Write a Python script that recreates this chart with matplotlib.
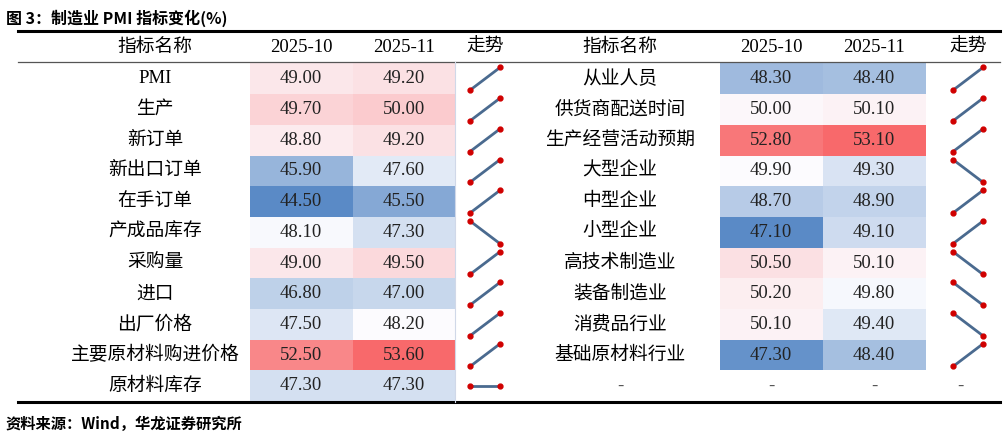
import matplotlib
matplotlib.use("Agg")
import matplotlib.pyplot as plt
from matplotlib.colors import LinearSegmentedColormap, TwoSlopeNorm
import numpy as np

plt.rcParams['font.family'] = ['Liberation Serif', 'Noto Sans CJK SC', 'DejaVu Sans']

left_names = ["PMI", "生产", "新订单", "新出口订单", "在手订单", "产成品库存", "采购量", "进口",
              "出厂价格", "主要原材料购进价格", "原材料库存"]
left_oct = [49.00, 49.70, 48.80, 45.90, 44.50, 48.10, 49.00, 46.80, 47.50, 52.50, 47.30]
left_nov = [49.20, 50.00, 49.20, 47.60, 45.50, 47.30, 49.50, 47.00, 48.20, 53.60, 47.30]
right_names = ["从业人员", "供货商配送时间", "生产经营活动预期", "大型企业", "中型企业", "小型企业",
               "高技术制造业", "装备制造业", "消费品行业", "基础原材料行业"]
right_oct = [48.30, 50.00, 52.80, 49.90, 48.70, 47.10, 50.50, 50.20, 50.10, 47.30]
right_nov = [48.40, 50.10, 53.10, 49.30, 48.90, 49.10, 50.10, 49.80, 49.40, 48.40]
headers = ["指标名称", "2025-10", "2025-11", "走势"]

W, H = 1007, 440
fig = plt.figure(figsize=(W/100, H/100), dpi=100)
ax = fig.add_axes([0, 0, 1, 1])
ax.set_xlim(0, W); ax.set_ylim(H, 0); ax.axis('off')

cmap = LinearSegmentedColormap.from_list("c", ["#5A8AC6", "#FCFCFF", "#F8696B"])
normL = TwoSlopeNorm(vmin=44.5, vcenter=48.2, vmax=53.6)
normR = TwoSlopeNorm(vmin=47.1, vcenter=49.9, vmax=53.1)

fs = 13.5
ax.text(6, 18, "图 3：制造业 PMI 指标变化(%)", fontsize=11.5, fontweight='bold', va='center',
        family=['Noto Sans CJK SC'])
ax.plot([18, 1000], [31, 31], color='black', lw=2.2)
ax.plot([18, 1000], [62, 62], color='#555555', lw=0.9)
ax.plot([18, 1000], [402, 402], color='black', lw=2.2)

top, rh = 63.5, 30.7
def table(names, oct_, nov, norm, xname, xc1, xc2, xtr, cw):
    for t, x in zip(headers, [xname, xc1, xc2, xtr]):
        ax.text(x, 47, t, fontsize=fs, ha='center', va='center')
    for i, (n, a, b) in enumerate(zip(names, oct_, nov)):
        y0 = top + i*rh; yc = y0 + rh/2
        ax.text(xname, yc, n, fontsize=fs, ha='center', va='center')
        for x, v in [(xc1, a), (xc2, b)]:
            ax.add_patch(plt.Rectangle((x-cw/2, y0), cw, rh, color=cmap(norm(v)), lw=0))
            ax.text(x, yc, f"{v:.2f}", fontsize=fs, ha='center', va='center', color='#222222')
        ya = yc if a == b else (y0+rh-4 if a < b else y0+4)
        yb = yc if a == b else (y0+rh-4 if b < a else y0+4)
        ax.plot([xtr-15, xtr+15], [ya, yb], color='#4A6A8F', lw=2.0, zorder=3)
        ax.plot([xtr-15, xtr+15], [ya, yb], 'o', color='#D00000', ms=3.5, zorder=4)

table(left_names, left_oct, left_nov, normL, 155, 301, 404, 485, 103)
table(right_names, right_oct, right_nov, normR, 620, 771, 874, 968, 103)
ax.plot([455, 455], [62, 402], color='#D0D8E8', lw=0.8)
yl = top + 10*rh + rh/2
for x in [620, 771, 874, 960]:
    ax.text(x, yl, "-", fontsize=fs, ha='center', va='center', color='#555555')

ax.text(6, 424, "资料来源：Wind，华龙证券研究所", fontsize=11, fontweight='bold', va='center',
        family=['Noto Sans CJK SC'])
fig.savefig("out.png", dpi=100)
